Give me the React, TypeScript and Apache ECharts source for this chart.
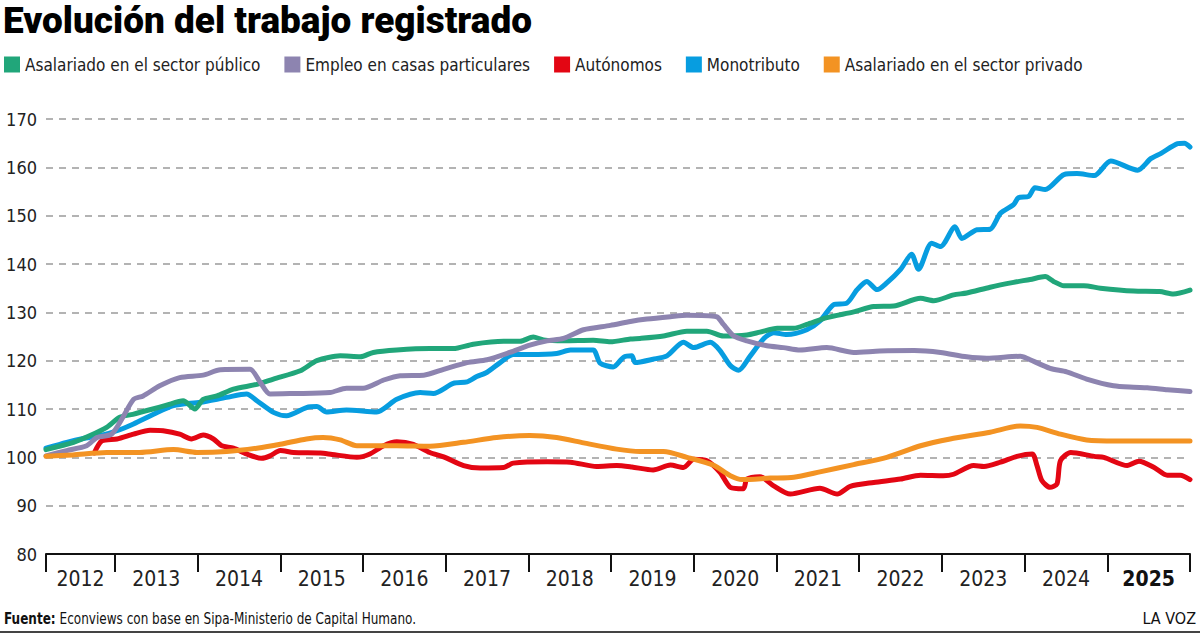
import React, { useEffect, useRef } from "react";
import * as echarts from "echarts";

// ---- Data (index 2012 = 100), x = months since Jan 2012 ----
const seriesNames = [
  "Asalariado en el sector público",
  "Empleo en casas particulares",
  "Autónomos",
  "Monotributo",
  "Asalariado en el sector privado",
];
const seriesColors = ["#21a67a", "#8d84b0", "#e30613", "#079de0", "#f39323"];

const yearLabels = ["2012", "2013", "2014", "2015", "2016", "2017", "2018", "2019", "2020", "2021", "2022", "2023", "2024", "2025"];
const yearTickMonths = [2, 12, 24, 36, 48, 60, 72, 84, 96, 108, 120, 132, 144, 156, 168];
const yearLabelMonths = [7, 18, 30, 42, 54, 66, 78, 90, 102, 114, 126, 138, 150, 162];

const publico: [number, number][] = [
  [2, 101.6], [6, 103.1], [8.4, 104.5], [10.8, 106.2], [12.7, 108.3], [14.6, 108.9], [17.5, 110], [19.5, 110.8],
  [21.9, 111.7], [23.6, 110], [24.8, 112], [26.8, 112.7], [29.2, 114.1], [32.6, 115.1], [35, 116.2], [38.9, 117.9],
  [41.3, 120], [44.7, 121], [47.6, 120.8], [49.5, 121.7], [52.9, 122.2], [57.7, 122.5], [61.1, 122.5], [64, 123.4],
  [68.4, 124], [70.8, 124], [72.7, 124.9], [74.2, 124.3], [77.1, 124.1], [81.4, 124.2], [83.9, 123.9], [86.8, 124.5],
  [88.2, 124.6], [91.6, 125.1], [95, 126.1], [97.9, 126.1], [100.3, 125.1], [103.7, 125.3], [105.6, 125.9],
  [108.1, 126.7], [110.5, 126.7], [112.4, 127.5], [115.3, 128.9], [119.2, 130.1], [122.1, 131.2], [125, 131.3],
  [128.9, 132.9], [130.8, 132.4], [133.7, 133.6], [135.6, 134], [139, 135.2], [142.4, 136.2], [144.8, 136.8],
  [147, 137.4], [148.2, 136.4], [149.7, 135.5], [152.6, 135.5], [155, 135], [159.8, 134.4], [163.6, 134.3],
  [165.6, 133.8], [168, 134.6],
];

const casas: [number, number][] = [
  [2, 100.3], [5, 101.4], [7.9, 102.4], [9.4, 104.1], [11.5, 104.8], [13, 107.9], [14.7, 112], [16.1, 112.7],
  [18.5, 114.8], [21.4, 116.5], [24.8, 117], [27.3, 118.1], [31.6, 118.2], [33.1, 115.5], [34.5, 113.1],
  [37.9, 113.2], [43.2, 113.4], [45.6, 114.3], [48, 114.3], [51, 116], [53.4, 116.9], [56.8, 117], [59.7, 118.2],
  [63.1, 119.6], [66, 120.2], [69.3, 121.7], [72.2, 123.2], [74.7, 124.1], [77.1, 124.6], [80, 126.4],
  [83.9, 127.3], [86.8, 128.1], [89.2, 128.6], [92.6, 129.1], [95, 129.4], [99.3, 129.1], [100.3, 127.5],
  [101.8, 125.1], [103.7, 124.1], [106.6, 123.1], [109, 122.7], [111.4, 122.2], [115.3, 122.7], [119.2, 121.7],
  [123, 122], [128, 122.1], [131.8, 121.7], [135.6, 120.8], [138.5, 120.5], [143.4, 120.9], [144.3, 120.5],
  [147.7, 118.4], [150.1, 117.7], [153, 116.2], [156.9, 114.8], [159.8, 114.5], [161.8, 114.4], [164.7, 114],
  [168, 113.6],
];

const autonomos: [number, number][] = [
  [9, 100.9], [10.1, 103.4], [12.3, 103.8], [14.7, 104.8], [17.1, 105.6], [19, 105.5], [21.4, 104.8], [23.1, 103.8],
  [24.8, 104.6], [26.3, 103.8], [27.5, 102.4], [29.2, 101.9], [31.1, 100.7], [33.3, 99.8], [34.5, 100.3],
  [36, 101.4], [37.9, 101], [41.8, 100.9], [43.5, 100.6], [47.1, 100], [49, 100.7], [51, 102.4], [52.9, 103.2],
  [55.3, 102.7], [57.7, 101], [59.7, 100.1], [62.6, 98.3], [65, 97.8], [68.4, 97.9], [69.8, 98.8], [74.7, 99.1],
  [78.1, 99], [81.9, 98.1], [84.8, 98.3], [87, 98], [90.1, 97.4], [92.6, 98.4], [94.5, 97.9], [96, 99.6],
  [97.9, 99.3], [99.8, 96.9], [101.3, 93.8], [103.2, 93.5], [103.7, 95.5], [105.6, 96], [107.6, 94.1],
  [110, 92.4], [114.3, 93.6], [116.8, 92.4], [118.7, 94], [122.1, 94.8], [126, 95.5], [128.9, 96.3],
  [132.2, 96.2], [133.7, 96.5], [136.6, 98.3], [138.1, 98.1], [140.5, 99], [142.9, 100.2], [145.1, 100.7],
  [145.8, 98.3], [146.5, 95.2], [147.7, 93.8], [148.7, 94.5], [149.2, 99.3], [150.7, 101], [154.1, 100.2],
  [155.5, 100], [158.9, 98.3], [160.6, 99.2], [162.8, 97.9], [164.7, 96.3], [166.6, 96.3], [168, 95.4],
];

const monotributo: [number, number][] = [
  [2, 101.9], [5, 103.1], [7.4, 103.9], [9.8, 104.5], [12.3, 105.5], [14.7, 106.9], [17.6, 108.9], [20.5, 110.7],
  [24.4, 111.4], [28.2, 112.4], [31.1, 113.1], [32.6, 111.7], [35, 109.3], [36.9, 108.6], [39.8, 110.3],
  [41.3, 110.5], [42.7, 109.4], [45.6, 109.8], [50, 109.4], [52.9, 112], [56.3, 113.4], [58.2, 113.2],
  [61.1, 115.3], [63.1, 115.6], [64.5, 116.7], [66, 117.6], [67.9, 119.6], [69.8, 121.3], [72.2, 121.3],
  [76.1, 121.5], [78.1, 122.2], [81.4, 122.2], [82.4, 119.5], [84.3, 118.7], [85.8, 120.7], [87, 121],
  [87.5, 119.6], [90.1, 120.3], [92.1, 121], [94.5, 123.8], [96, 122.7], [98.4, 123.8], [99.8, 122.1],
  [101.3, 119], [102.5, 118], [104.2, 121], [106.1, 124.5], [107.6, 125.8], [109.5, 125.4], [112.4, 126.4],
  [114.3, 128.2], [116.3, 131.6], [118.2, 131.9], [119.7, 134.7], [121.1, 136.4], [122.6, 134.7], [124, 136.1],
  [126, 138.9], [127.6, 142], [128.6, 138.9], [130.5, 144.3], [131.8, 143.6], [133.9, 147.7], [134.9, 145.3],
  [137.1, 147.1], [139, 147.2], [140.5, 150.5], [142.4, 152.3], [143.1, 153.7], [144.6, 154], [145.5, 155.8],
  [147, 155.4], [149.7, 158.5], [151.6, 158.7], [154.1, 158.3], [156.5, 161.3], [160.4, 159.4], [162.3, 161.8],
  [163.8, 162.9], [166.2, 164.9], [167.2, 165], [168, 164.2],
];

const privado: [number, number][] = [
  [2, 100.2], [5.9, 100.5], [10.8, 101], [15.6, 101], [20.5, 101.6], [23.9, 101], [28.2, 101.2], [32.6, 101.9],
  [36, 102.7], [39.8, 103.8], [42.2, 104.1], [44.7, 103.6], [47.1, 102.4], [52.9, 102.4], [57.7, 102.3],
  [62.6, 103.1], [67.4, 104.1], [72.2, 104.5], [76.1, 104.1], [80, 103], [84.8, 101.7], [88.2, 101.2],
  [91.6, 101.2], [95, 100], [98.8, 98.4], [101.3, 96.2], [103, 95.4], [107.1, 95.7], [110.5, 95.9], [114.3, 97],
  [119.2, 98.5], [124, 100], [128.9, 102.4], [133.2, 103.8], [139, 105.2], [143.4, 106.5], [145.8, 106.2],
  [149.2, 104.8], [153, 103.6], [157.4, 103.4], [168, 103.4],
];

const NARROW = "'Liberation Sans Narrow', 'DejaVu Sans Condensed', 'Open Sans', sans-serif";
const TITLE = "Evolución del trabajo registrado";

function measure(text: string, font: string): number {
  const c = document.createElement("canvas").getContext("2d");
  if (!c) return 600;
  c.font = font;
  return c.measureText(text).width;
}

export default function App() {
  const ref = useRef<HTMLDivElement>(null);

  useEffect(() => {
    document.body.style.margin = "0";
    if (!ref.current) return;
    const chart = echarts.init(ref.current, undefined, { renderer: "svg" });

    const titleFont = "900 37px Roboto";
    const titleW = measure(TITLE, titleFont);
    const titleScale = 529 / titleW;

    const footFont = "16px " + NARROW;
    const footW = measure("Fuente: Econviews con base en Sipa-Ministerio de Capital Humano.", footFont);
    const footScale = Math.min(1, 406 / footW);

    const dataByName: Record<string, [number, number][]> = {
      [seriesNames[0]]: publico,
      [seriesNames[1]]: casas,
      [seriesNames[2]]: autonomos,
      [seriesNames[3]]: monotributo,
      [seriesNames[4]]: privado,
    };
    // draw order: blue, red, green, purple, orange on top
    const drawOrder = [3, 2, 0, 1, 4];

    chart.setOption({
      animation: false,
      backgroundColor: "#ffffff",
      legend: {
        data: seriesNames.map((n, i) => ({ name: n, itemStyle: { color: seriesColors[i] } })),
        left: 4,
        top: 56,
        padding: 0,
        itemWidth: 16,
        itemHeight: 16,
        itemGap: 24,
        icon: "rect",
        selectedMode: false,
        textStyle: { fontFamily: NARROW, fontSize: 17, color: "#222" },
      },
      grid: { left: 46, right: 10, top: 119, bottom: 80, containLabel: false },
      xAxis: {
        type: "value",
        min: 2,
        max: 168,
        axisLine: { show: true, onZero: false, lineStyle: { color: "#111", width: 2 } },
        axisTick: { show: true, length: 18, lineStyle: { color: "#111", width: 2 }, customValues: yearTickMonths },
        axisLabel: {
          customValues: yearLabelMonths,
          margin: 14,
          fontFamily: NARROW,
          fontSize: 21,
          color: "#222",
          formatter: (v: number) => {
            const idx = yearLabelMonths.indexOf(Math.round(v));
            const label = idx >= 0 ? yearLabels[idx] : "";
            return label === "2025" ? "{b|" + label + "}" : label;
          },
          rich: { b: { fontWeight: "bold", fontFamily: NARROW, fontSize: 21, color: "#111" } },
        },
        splitLine: { show: false },
      },
      yAxis: {
        type: "value",
        min: 80,
        max: 170,
        interval: 10,
        axisLine: { show: false },
        axisTick: { show: false },
        axisLabel: { fontFamily: NARROW, fontSize: 18, color: "#222", margin: 9 },
        splitLine: { show: true, lineStyle: { color: "#9a9a9a", type: [7, 6], width: 1.5 } },
      },
      series: drawOrder.map((i) => ({
        name: seriesNames[i],
        type: "line",
        data: dataByName[seriesNames[i]],
        showSymbol: false,
        smooth: 0.25,
        lineStyle: { color: seriesColors[i], width: 5, cap: "round", join: "round" },
        itemStyle: { color: seriesColors[i] },
        z: 2,
      })),
      graphic: [
        {
          type: "text",
          x: 3,
          y: 2,
          scaleX: titleScale,
          style: { text: TITLE, font: titleFont, fill: "#000", verticalAlign: "top" },
        },
        {
          type: "text",
          x: 4,
          y: 618,
          scaleX: footScale,
          style: {
            text: "{b|Fuente:} Econviews con base en Sipa-Ministerio de Capital Humano.",
            fontFamily: NARROW,
            fontSize: 16,
            fill: "#111",
            verticalAlign: "middle",
            rich: { b: { fontWeight: "bold", fontFamily: NARROW, fontSize: 16, fill: "#111" } },
          },
        },
        {
          type: "text",
          x: 1196,
          y: 618,
          style: { text: "LA VOZ", fontFamily: NARROW, fontSize: 16, fill: "#111", align: "right", verticalAlign: "middle" },
        },
        {
          type: "rect",
          shape: { x: 0, y: 631, width: 1200, height: 2 },
          style: { fill: "#444" },
        },
      ],
    });

    return () => chart.dispose();
  }, []);

  return <div ref={ref} style={{ position: "fixed", left: 0, top: 0, width: 1200, height: 634 }} />;
}
